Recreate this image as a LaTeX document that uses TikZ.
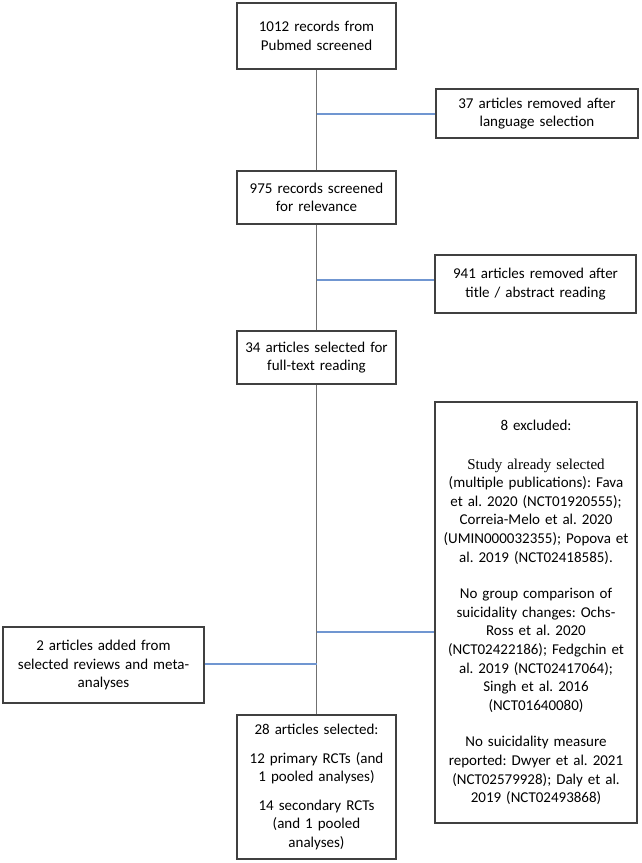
\documentclass[tikz,border=0pt]{standalone}
\usepackage{fontspec}
\setmainfont{Carlito}
\newfontfamily\serifpart{Liberation Serif}
\frenchspacing
\definecolor{boxline}{HTML}{404040}
\definecolor{mainline}{HTML}{707070}
\definecolor{sideline}{HTML}{7096D1}
\begin{document}
\begin{tikzpicture}[x=1pt,y=-1pt,
  flowbox/.style={draw=boxline, line width=1.2pt, fill=white, align=center, inner sep=0pt,
    font=\fontsize{15}{18.6}\selectfont\frenchspacing},
  trunk/.style={draw=mainline, line width=1.8pt},
  branch/.style={draw=sideline, line width=1.3pt}]
\useasboundingbox[fill=white] (0,0) rectangle (641,863);

\node[flowbox, minimum width=159pt, minimum height=66pt, text width=155pt] (b1) at (316.5,36)
  {1012 records from\\Pubmed screened};
\node[flowbox, minimum width=202pt, minimum height=49pt, text width=198pt] (b2) at (537,113.5)
  {37 articles removed after\\language selection};
\node[flowbox, minimum width=159pt, minimum height=53pt, text width=155pt] (b3) at (316.5,197.5)
  {975 records screened\\for relevance};
\node[flowbox, minimum width=201pt, minimum height=58pt, text width=197pt] (b4) at (535.5,284)
  {941 articles removed after\\title / abstract reading};
\node[flowbox, minimum width=159pt, minimum height=53pt, text width=155pt] (b5) at (316.5,357.5)
  {34 articles selected for\\full-text reading};
\node[flowbox, minimum width=202pt, minimum height=421pt, text width=198pt] (b6) at (536,612.5)
  {8 excluded:\\[20pt]
   {\serifpart Study already selected}\\
   (multiple publications): Fava\\
   et al. 2020 (NCT01920555);\\
   Correia-Melo et al. 2020\\
   (UMIN000032355); Popova et\\
   al. 2019 (NCT02418585).\\[18pt]
   No group comparison of\\
   suicidality changes: Ochs-\\
   Ross et al. 2020\\
   (NCT02422186); Fedgchin et\\
   al. 2019 (NCT02417064);\\
   Singh et al. 2016\\
   (NCT01640080)\\[18pt]
   No suicidality measure\\
   reported: Dwyer et al. 2021\\
   (NCT02579928); Daly et al.\\
   2019 (NCT02493868)};
\node[flowbox, minimum width=201pt, minimum height=76pt, text width=197pt] (b7) at (103.5,665)
  {2 articles added from\\selected reviews and meta-\\analyses};
\node[flowbox, minimum width=159pt, minimum height=144pt, text width=155pt] (b8) at (316.5,787)
  {28 articles selected:\\[10pt]
   12 primary RCTs (and\\1 pooled analyses)\\[10pt]
   14 secondary RCTs\\(and 1 pooled\\analyses)};

\draw[trunk] (b1.south) -- (b3.north);
\draw[trunk] (b3.south) -- (b5.north);
\draw[trunk] (b5.south) -- (b8.north);

\coordinate (j1) at (316.5,114);
\coordinate (j2) at (316.5,280);
\coordinate (j3) at (316.5,632);
\coordinate (j4) at (316.5,664);

\draw[branch] (j1) -- (b2.west |- j1);
\draw[branch] (j2) -- (b4.west |- j2);
\draw[branch] (j3) -- (b6.west |- j3);
\draw[branch] (b7.east |- j4) -- (j4);
\end{tikzpicture}
\end{document}
